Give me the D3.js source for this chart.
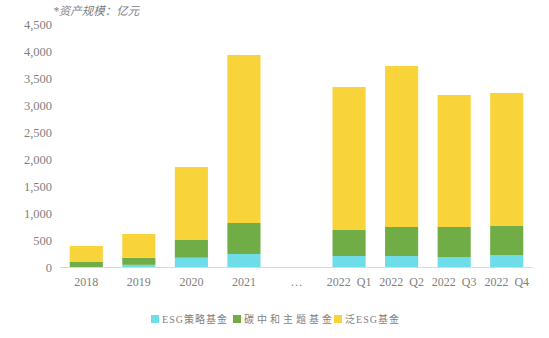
<!DOCTYPE html>
<html><head><meta charset="utf-8">
<script src="https://cdn.jsdelivr.net/npm/d3@7"></script>
<style>
html,body{margin:0;padding:0;background:#fff;}
svg{display:block;}
</style></head>
<body><svg id="c" width="549" height="338"></svg>
<script>
const categories = ["2018","2019","2020","2021","\u2026","2022  Q1","2022  Q2","2022  Q3","2022  Q4"];
const seriesNames = ["ESG策略基金","碳中和主题基金","泛ESG基金"];
const esgStrategy = [0, 40, 172, 241, null, 204, 204, 185, 222];
const carbonNeutral = [93, 130, 328, 574, null, 481, 537, 556, 537];
const panEsg = [296, 441, 1352, 3111, null, 2648, 2981, 2444, 2463];
const yTicks = [0,500,1000,1500,2000,2500,3000,3500,4000,4500];
const colors = ["#6FDCE9","#70AD47","#F9D33A"];
const title = "*资产规模：亿元";

const svg = d3.select("#c");
const x = d3.scaleBand().domain(categories).range([60,533]).paddingInner(0.37).paddingOuter(0.185);
const y = d3.scaleLinear().domain([0,4500]).range([267,24]);

const rows = categories.map((c,i)=>({cat:c, v:[esgStrategy[i],carbonNeutral[i],panEsg[i]]}));
const stack = d3.stack().keys([0,1,2]).value((d,k)=>d.v[k]||0);
const layers = stack(rows);

layers.forEach((layer,k)=>{
  svg.append("g").selectAll("rect").data(layer.filter(d=>d.data.v[k]!=null)).join("rect")
    .attr("x",d=>x(d.data.cat))
    .attr("width",x.bandwidth())
    .attr("y",d=>y(d[1]))
    .attr("height",d=>Math.max(0,y(d[0])-y(d[1])))
    .attr("fill",colors[k]);
});

// axis line
svg.append("line").attr("x1",60).attr("x2",533).attr("y1",y(0)+0.5).attr("y2",y(0)+0.5)
  .attr("stroke","#d9d9d9").attr("stroke-width",1);

const yAxis = d3.axisLeft(y).tickValues(yTicks).tickSize(0).tickPadding(0).tickFormat(d3.format(","));
const gy = svg.append("g").attr("transform","translate(52,0)").call(yAxis);
gy.select(".domain").remove();
gy.selectAll("text").attr("fill","#7f7f7f").style("font-family","'Liberation Serif','DejaVu Serif',serif").style("font-size","12.5px").attr("dy","0.35em");

const xAxis = d3.axisBottom(x).tickSize(0).tickPadding(0);
const gx = svg.append("g").attr("transform","translate(0,282)").call(xAxis);
gx.select(".domain").remove();
gx.selectAll("text").attr("fill","#7f7f7f").attr("dy","0.35em").style("white-space","pre")
  .style("font-family","'Liberation Serif','DejaVu Serif',serif").style("font-size","12px");

svg.append("text").attr("x",53).attr("y",15).text(title)
  .attr("fill","#7f7f7f").style("font-style","italic").style("font-size","11.5px")
  .style("font-family","'Liberation Serif','Noto Sans CJK SC',serif");

// legend
const legendX = [151,233,334];
const legendW = [65,88,54];
const lg = svg.append("g");
seriesNames.forEach((n,i)=>{
  lg.append("rect").attr("x",legendX[i]).attr("y",315).attr("width",8).attr("height",8).attr("fill",colors[i]);
  lg.append("text").attr("x",legendX[i]+11).attr("y",319).attr("dy","0.35em").text(n)
    .attr("textLength",legendW[i]).attr("lengthAdjust","spacing")
    .attr("fill","#7f7f7f").style("font-size","10px")
    .style("font-family","'Liberation Serif','Noto Sans CJK SC',serif");
});
</script></body></html>
